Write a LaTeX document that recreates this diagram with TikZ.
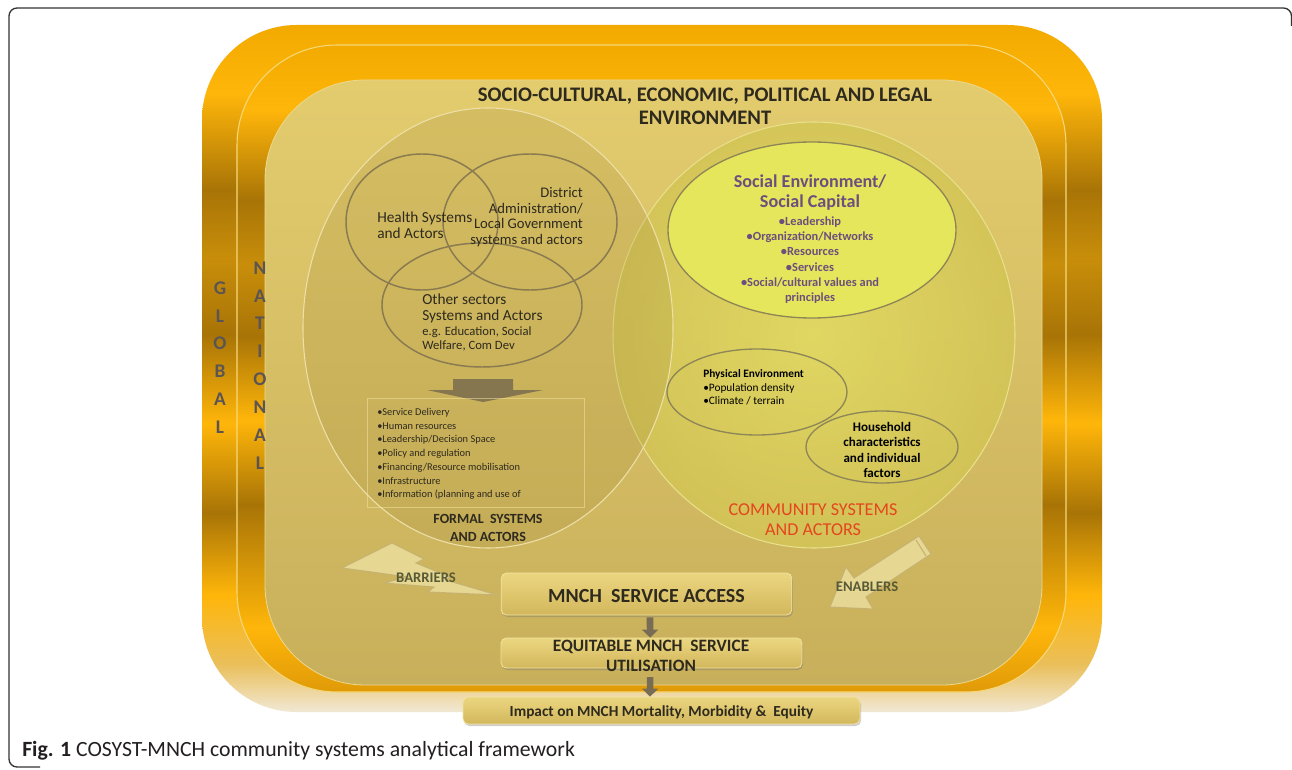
\documentclass[tikz,border=0pt]{standalone}
\usepackage{fontspec}
\setmainfont{Carlito}
\usetikzlibrary{shadows,calc,arrows.meta}

% metallic gold, panel and box colours
\definecolor{gtop}{HTML}{F2AA00}
\definecolor{gbright}{HTML}{FFB60A}
\definecolor{gdark}{HTML}{A87406}
\definecolor{gmid}{HTML}{C88E0A}
\definecolor{glow}{HTML}{EABF5A}
\definecolor{gfade}{HTML}{F1E8D4}
\definecolor{gorange}{HTML}{E09A08}
\definecolor{ptop}{HTML}{E3CC6E}
\definecolor{pbot}{HTML}{C8AF5B}
\definecolor{prim}{HTML}{EBD98F}
\definecolor{rimc}{HTML}{F6D878}
\definecolor{formfill}{HTML}{A08838}
\definecolor{formline}{HTML}{EEDFA8}
\definecolor{commin}{HTML}{E2DD62}
\definecolor{commout}{HTML}{D3C555}
\definecolor{commline}{HTML}{E8E08A}
\definecolor{socialfill}{HTML}{E6E65C}
\definecolor{socialline}{HTML}{8E8656}
\definecolor{vennline}{HTML}{8A7A50}
\definecolor{darktext}{HTML}{2E2A1E}
\definecolor{purpletext}{HTML}{6B4F7D}
\definecolor{redtext}{HTML}{E5461E}
\definecolor{olivetext}{HTML}{575A36}
\definecolor{arrowfill}{HTML}{E9DA98}
\definecolor{arrowline}{HTML}{C5B271}
\definecolor{greyarrow}{HTML}{85764F}
\definecolor{smallarrow}{HTML}{786C55}
\definecolor{bxt}{HTML}{EBD680}
\definecolor{bxb}{HTML}{D2B75C}
\definecolor{boxline}{HTML}{F2E3A0}
\definecolor{framec}{HTML}{333333}
\definecolor{lettercol}{HTML}{5A5454}
\definecolor{captext}{HTML}{231F20}

\pgfdeclareverticalshading{goldband}{100bp}{%
  color(0bp)=(gfade); color(25bp)=(gfade); color(28.5bp)=(glow);
  color(33.5bp)=(gbright); color(39.5bp)=(gdark); color(46bp)=(gbright);
  color(52.5bp)=(gdark); color(58bp)=(gmid); color(63bp)=(gdark);
  color(70bp)=(gbright); color(75bp)=(gtop); color(100bp)=(gtop)}
\pgfdeclareverticalshading{goldbandinner}{100bp}{%
  color(0bp)=(gorange); color(25bp)=(gorange); color(30bp)=(gbright);
  color(39.5bp)=(gdark); color(46bp)=(gbright);
  color(52.5bp)=(gdark); color(58bp)=(gmid); color(63bp)=(gdark);
  color(70bp)=(gbright); color(75bp)=(gtop); color(100bp)=(gtop)}
\pgfdeclareverticalshading{panelshade}{100bp}{%
  color(0bp)=(pbot); color(25bp)=(pbot); color(75bp)=(ptop); color(100bp)=(ptop)}
\pgfdeclareverticalshading{boxshade}{100bp}{%
  color(0bp)=(bxb); color(25bp)=(bxb); color(75bp)=(bxt); color(100bp)=(bxt)}

\tikzset{
  venn/.style={draw=vennline, line width=1.1pt},
  venntext/.style={text=darktext, font=\fontsize{11.5}{12}\selectfont, inner sep=0pt},
  listtext/.style={text=darktext, font=\fontsize{7.8}{10.3}\selectfont, inner sep=0pt, align=left},
  purplehead/.style={text=purpletext, font=\fontsize{13.6}{15}\selectfont\bfseries, align=center, inner sep=0pt},
  purplelist/.style={text=purpletext, font=\fontsize{9.3}{11.5}\selectfont\bfseries, align=center, inner sep=0pt},
  smallell/.style={draw=socialline, line width=1pt},
  flowbox/.style={shading=boxshade, draw=boxline, line width=0.6pt, rounded corners=4pt,
    drop shadow={shadow xshift=0.8pt, shadow yshift=-1.5pt, opacity=.35, fill=black!55}},
  flowtext/.style={text=darktext, font=\bfseries, inner sep=0pt, align=center},
  blockarrow/.style={fill=arrowfill, draw=arrowline, line width=0.8pt, opacity=.92},
  sidelabel/.style={text=olivetext, font=\fontsize{11}{12}\selectfont\bfseries, inner sep=0pt},
  downarrow/.style={draw=smallarrow, line width=5pt,
    -{Triangle[width=12pt, length=6pt]}},
  letters/.style={text=lettercol, font=\fontsize{14.5}{20.9}\selectfont\bfseries, align=center, inner sep=0pt}
}

\begin{document}
\begin{tikzpicture}[x=0.75pt, y=-0.75pt]
\useasboundingbox (0,0) rectangle (1292,770);
\fill[white] (0,0) rectangle (1292,770);

% card outline
\draw[framec, line width=1pt, rounded corners=6pt] (1291.5,26) |- (9,8) |- (40,767);

% global band, national band, inner panel
\path[shading=goldband, rounded corners=71pt] (202,25) rectangle (1102,712);
\path[shading=goldbandinner, draw=rimc, line width=0.8pt, rounded corners=75pt] (237,45) rectangle (1066,692);
\path[shading=panelshade, draw=prim, line width=0.6pt, rounded corners=75pt] (265,80) rectangle (1042,685);

% environment heading
\node[text=darktext, font=\fontsize{15.5}{17.3}\selectfont\bfseries, align=center, inner sep=0pt] (envtitle) at (705,106)
  {SOCIO-CULTURAL, ECONOMIC, POLITICAL AND LEGAL\\ENVIRONMENT};

% community and formal system ellipses
\shade[inner color=commin, outer color=commout, opacity=.8] (814,335) ellipse [x radius=201, y radius=213];
\draw[commline, line width=0.8pt] (814,335) ellipse [x radius=201, y radius=213];
\fill[formfill, opacity=.2] (488,328) ellipse [x radius=185, y radius=220];
\draw[formline, line width=0.8pt] (488,328) ellipse [x radius=185, y radius=220];

% three overlapping sector circles
\draw[venn] (422,222) ellipse [x radius=76, y radius=68];
\draw[venn] (530,222) ellipse [x radius=87, y radius=68];
\draw[venn] (482,305) ellipse [x radius=100, y radius=62];

\node[venntext, anchor=west, align=left] (health) at (377,225) {Health Systems\\and Actors};
\node[venntext, anchor=east, align=right, font=\fontsize{11}{11.7}\selectfont] (district) at (583,217)
  {District\\Administration/\\Local Government\\systems and actors};
\node[venntext, anchor=west, align=left] (other) at (422,308) {Other sectors\\Systems and Actors};
\node[venntext, anchor=west, align=left, font=\fontsize{9.5}{10.5}\selectfont] (othereg) at (422,339)
  {e.g. Education, Social\\Welfare, Com Dev};

% block arrow into the building blocks list
\fill[greyarrow] (453,379) -- (513,379) -- (513,390) -- (543,390) -- (483,402) -- (427,390) -- (453,390) -- cycle;
\node[draw=boxline, draw opacity=.55, line width=0.5pt, anchor=north west, minimum width=162.75pt, minimum height=81.75pt, inner sep=0pt] (listbox) at (367,398) {};
\node[listtext, anchor=west] (blocks) at (377,454)
  {\textbullet Service Delivery\\\textbullet Human resources\\\textbullet Leadership/Decision Space\\\textbullet Policy and regulation\\\textbullet Financing/Resource mobilisation\\\textbullet Infrastructure\\\textbullet Information (planning and use of};
\node[text=darktext, font=\fontsize{10.5}{13.5}\selectfont\bfseries, align=center, inner sep=0pt] (formal) at (488,528)
  {FORMAL\ \ SYSTEMS\\AND ACTORS};

% social environment
\fill[socialfill] (812,230) ellipse [x radius=144, y radius=88];
\draw[smallell] (812,230) ellipse [x radius=144, y radius=88];
\node[purplehead] (socialhead) at (810,193) {Social Environment/\\Social Capital};
\node[purplelist] (sociallist) at (810,260)
  {\textbullet Leadership\\\textbullet Organization/Networks\\\textbullet Resources\\\textbullet Services\\\textbullet Social/cultural values and\\principles};

% physical environment and household
\draw[smallell] (757,392) ellipse [x radius=90, y radius=43];
\node[anchor=west, align=left, inner sep=0pt, text=black, font=\fontsize{8.5}{10}\selectfont] (physical) at (703,387.5)
  {\textbf{Physical Environment}\\\textbullet Population density\\\textbullet Climate / terrain};
\draw[smallell] (882,447) ellipse [x radius=76, y radius=36];
\node[align=center, inner sep=0pt, text=black, font=\fontsize{9.8}{11.5}\selectfont\bfseries] (household) at (882,450)
  {Household\\characteristics\\and individual\\factors};
\node[text=redtext, font=\fontsize{13.6}{15}\selectfont, align=center, inner sep=0pt] (community) at (813,520)
  {COMMUNITY SYSTEMS\\AND ACTORS};

% barriers and enablers
\path[blockarrow] (342,568) -- (392,543) -- (424,559) -- (416,563) -- (450,577) -- (446,580) -- (497,595)
  -- (428,592) -- (434,587) -- (384,583) -- (408,577) -- cycle;
\node[sidelabel] (barriers) at (426,578) {BARRIERS};
\path[blockarrow] (931,554) -- (866,597) -- (873,609) -- (830,607) -- (846,567) -- (854,578) -- (919,536) -- cycle;
\draw[arrowline, line width=0.8pt] (916,540) -- (926,556);
\node[sidelabel] (enablers) at (867,587) {ENABLERS};

% access, utilisation and impact chain
\node[flowbox, minimum width=218pt, minimum height=31.5pt] (access) at (646.5,594) {};
\node[flowtext, font=\fontsize{15}{16}\selectfont\bfseries] (accesstext) at (646.5,596) {MNCH\ \ SERVICE ACCESS};
\node[flowbox, minimum width=225.75pt, minimum height=22.5pt] (equit) at (651.5,653) {};
\node[flowtext, font=\fontsize{13}{15}\selectfont\bfseries] (equittext) at (651,656) {EQUITABLE MNCH\ \ SERVICE\\UTILISATION};
\node[flowbox, minimum width=297.75pt, minimum height=20.25pt] (impact) at (661.5,710.5) {};
\node[flowtext, font=\fontsize{11.5}{12}\selectfont\bfseries] (impacttext) at (661.5,712) {Impact on MNCH Mortality, Morbidity \&\ \ Equity};

\draw[downarrow, shorten <=1.5pt] ([xshift=2.6pt]access.south) -- ([xshift=-1pt]equit.north);
\draw[downarrow, shorten <=6.5pt] ([xshift=-1pt]equit.south) -- ([xshift=-8.6pt]impact.north);

% level labels
\node[letters] (global) at (220,357.5) {G\\L\\O\\B\\A\\L};
\node[letters] (national) at (260,365.5) {N\\A\\T\\I\\O\\N\\A\\L};

% caption
\node[anchor=west, inner sep=0pt, text=captext, font=\fontsize{16.3}{18}\selectfont] (caption) at (22,751)
  {\textbf{Fig. 1} COSYST-MNCH community systems analytical framework};
\end{tikzpicture}
\end{document}
